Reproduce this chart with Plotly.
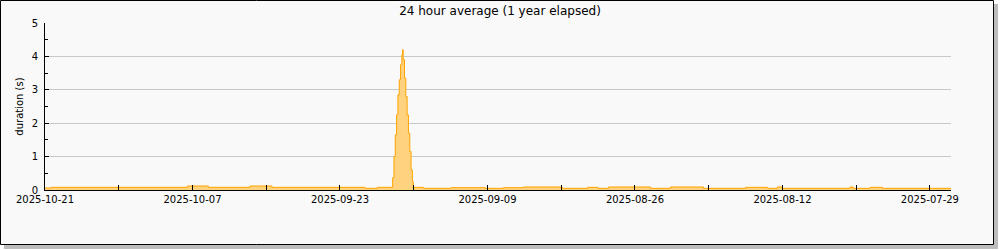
import plotly.graph_objects as go

title = "24 hour average (1 year elapsed)"
y_label = "duration (s)"

# step breakpoints (newest -> oldest); each value holds until the next (older) time
times = [
    "2025-10-21 00:00", "2025-10-20 10:00", "2025-10-07 12:00", "2025-10-05 12:00",
    "2025-10-01 13:00", "2025-09-29 11:00", "2025-09-20 15:00", "2025-09-19 11:00",
    "2025-09-18 00:00", "2025-09-17 21:00", "2025-09-17 18:00", "2025-09-17 15:00",
    "2025-09-17 12:00", "2025-09-17 09:00", "2025-09-17 06:00", "2025-09-17 03:00",
    "2025-09-17 01:30", "2025-09-17 00:00", "2025-09-16 21:00", "2025-09-16 18:00",
    "2025-09-16 15:00", "2025-09-16 12:00", "2025-09-16 09:00", "2025-09-16 06:00",
    "2025-09-16 03:00", "2025-09-16 01:00", "2025-09-15 02:00", "2025-09-12 11:00",
    "2025-09-09 05:00", "2025-09-07 12:00", "2025-09-05 14:00", "2025-09-01 22:00",
    "2025-08-30 12:00", "2025-08-29 12:00", "2025-08-28 12:00", "2025-08-24 12:00",
    "2025-08-22 15:00", "2025-08-19 12:00", "2025-08-15 12:00", "2025-08-13 10:00",
    "2025-08-12 12:00", "2025-08-12 00:00", "2025-08-05 14:00", "2025-08-05 07:00",
    "2025-08-03 16:00", "2025-08-02 12:00", "2025-07-27 00:00",
]
durations = [
    0.06, 0.08, 0.12, 0.08,
    0.12, 0.08, 0.05, 0.08,
    0.37, 1.0, 1.65, 2.25,
    2.85, 3.3, 3.75, 4.05,
    4.2, 3.9, 3.35, 2.8,
    2.25, 1.7, 1.15, 0.6,
    0.25, 0.08, 0.05, 0.07,
    0.05, 0.07, 0.09, 0.05,
    0.08, 0.05, 0.09, 0.05,
    0.09, 0.05, 0.08, 0.05,
    0.09, 0.05, 0.09, 0.05,
    0.08, 0.05, 0.05,
]

x_range = ["2025-10-21", "2025-07-27"]
x_tickvals = ["2025-10-21", "2025-10-07", "2025-09-23", "2025-09-09",
              "2025-08-26", "2025-08-12", "2025-07-29"]
y_tickvals = [0, 1, 2, 3, 4, 5]

fig = go.Figure()
fig.add_trace(go.Scatter(
    x=times, y=durations, mode="lines", line_shape="hv",
    line=dict(color="#ffa500", width=1),
    fill="tozeroy", fillcolor="#ffd27f",
    hoverinfo="x+y", showlegend=False,
))

font = "DejaVu Sans, sans-serif"
L, R, T, B = 45, 49, 23, 60
W, H = 1000, 250
pw, ph = W - L - R, H - T - B

def px(x):
    return (x - L) / pw

def py(y):
    return (H - B - y) / ph

fig.update_layout(
    width=W, height=H,
    margin=dict(l=L, r=R, t=T, b=B, pad=0),
    paper_bgcolor="white",
    plot_bgcolor="white",
    font=dict(family=font, size=10, color="black"),
    title=dict(text=title, x=px(498), xanchor="center", y=1 - 11 / H, yanchor="middle",
               font=dict(size=12, family=font, color="black")),
    shapes=[
        dict(type="rect", xref="paper", yref="paper", layer="below",
             x0=px(4), x1=px(998), y0=py(4), y1=py(249),
             fillcolor="#bdbdbd", line=dict(width=0)),
        dict(type="rect", xref="paper", yref="paper", layer="below",
             x0=px(0.5), x1=px(993.5), y0=py(0.5), y1=py(244.5),
             fillcolor="#f9f9f9", line=dict(color="black", width=1)),
    ],
    xaxis=dict(
        type="date", range=x_range, tickvals=x_tickvals, tickformat="%Y-%m-%d",
        ticks="inside", ticklen=5, tickcolor="black", showgrid=False,
        showline=True, linecolor="black", linewidth=1, zeroline=False,
        minor=dict(ticks="inside", ticklen=5, tickcolor="black", dtick=7 * 86400000,
                   tick0="2025-10-21", showgrid=False),
        tickfont=dict(size=10, family=font), fixedrange=True,
    ),
    yaxis=dict(
        range=[0, 5], tickvals=y_tickvals, ticks="inside", ticklen=4, tickcolor="black",
        showgrid=True, gridcolor="#c8c8c8", gridwidth=1,
        showline=True, linecolor="black", linewidth=1, zeroline=False,
        minor=dict(ticks="inside", ticklen=3, tickcolor="black", dtick=0.5, showgrid=False),
        title=dict(text=y_label, font=dict(size=10, family=font), standoff=6),
        tickfont=dict(size=10, family=font), ticklabelstandoff=4, fixedrange=True,
    ),
)

fig.write_html("out.html")
